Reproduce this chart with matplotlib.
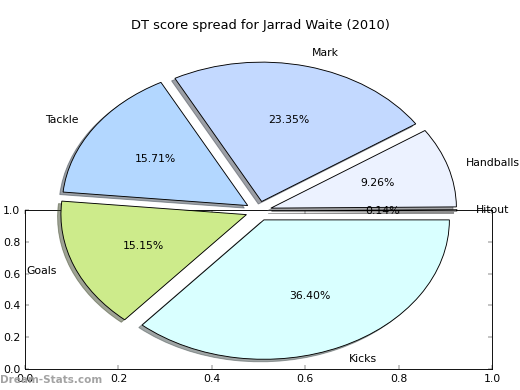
"""DT score spread pie for Jarrad Waite (2010), old-style exploded pie."""

import matplotlib
matplotlib.use("Agg")
import matplotlib.pyplot as plt

# ---------------------------------------------------------------------------
# Data
# ---------------------------------------------------------------------------
labels = ["Hitout", "Handballs", "Mark", "Tackle", "Goals", "Kicks"]
shares = [0.14, 9.26, 23.35, 15.71, 15.15, 36.40]
colours = ["#DDDDDD", "#ECF2FF", "#C3D9FF", "#B3D7FF", "#CDEB8B", "#D9FFFF"]
explode = [0.07] * len(labels)

frame_ticks = [0.0, 0.2, 0.4, 0.6, 0.8, 1.0]

plt.rcParams["font.family"] = "DejaVu Sans"
plt.rcParams["font.size"] = 12

fig = plt.figure(figsize=(8, 6), dpi=65)

# empty 0..1 frame that sits behind the pie
frame = fig.add_axes([25 / 520, 21 / 390, 467 / 520, 159 / 390], zorder=0)
frame.set_xlim(0, 1)
frame.set_ylim(0, 1)
frame.set_xticks(frame_ticks)
frame.set_yticks(frame_ticks)
frame.set_xticklabels([f"{t:.1f}" for t in frame_ticks])
frame.set_yticklabels([f"{t:.1f}" for t in frame_ticks])
frame.tick_params(direction="in", top=True, right=True, length=4, width=0.5,
                  labelsize=12, pad=5)
for sp in frame.spines.values():
    sp.set_linewidth(1.0)

# pie axes spans the whole figure, no aspect lock -> elliptical pie
cx, cy = 258.5, 211.0
rx, ry = 185.5, 139.4
ax = fig.add_axes([0, 0, 1, 1], zorder=1)
ax.patch.set_alpha(0)
ax.pie(shares, labels=labels, colors=colours, explode=explode,
       autopct="%1.2f%%", shadow=True, startangle=0, counterclock=True,
       labeldistance=1.1, pctdistance=0.6,
       wedgeprops={"edgecolor": "black", "linewidth": 1.0},
       textprops={"fontsize": 12})
ax.set_aspect("auto")
ax.set_xlim(-cx / rx, (520 - cx) / rx)
ax.set_ylim(-(390 - cy) / ry, cy / ry)
ax.axis("off")

fig.text(0.5, 1 - 25 / 390, "DT score spread for Jarrad Waite (2010)",
         ha="center", va="center", fontsize=14.4)
fig.text(0.0, 1 - 380 / 390, "Dream-Stats.com", ha="left", va="center",
         fontsize=11.5, fontweight="bold", color="#999999", alpha=0.9,
         zorder=5)

fig.savefig("out.png", dpi=65)
